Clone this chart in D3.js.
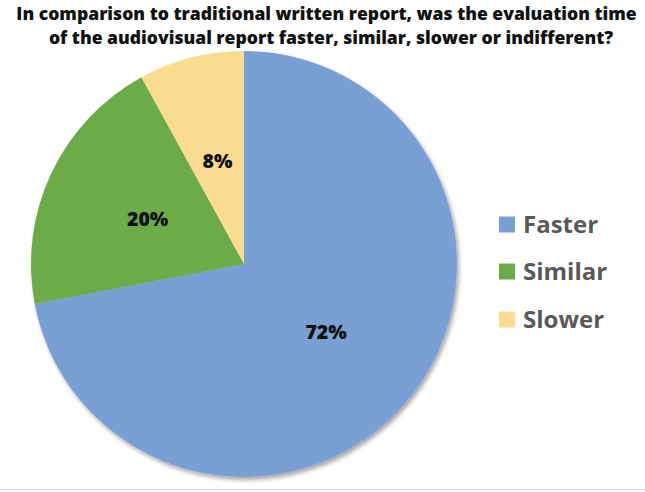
<!DOCTYPE html>
<html>
<head>
<meta charset="utf-8">
<script src="https://cdn.jsdelivr.net/npm/d3@7"></script>
<style>
html,body{margin:0;padding:0;background:#fff;}
svg{display:block;}
</style>
</head>
<body>
<svg id="chart" width="645" height="492"></svg>
<script>
const categories = ["Faster", "Similar", "Slower"];
const values = [72, 20, 8];
const labels = ["72%", "20%", "8%"];
const colors = ["#7A9FD3", "#6CAB47", "#FADC91"];
const titleLines = [
  "In comparison to traditional written report, was the evaluation time",
  "of the audiovisual report faster, similar, slower or indifferent?"
];

const svg = d3.select("#chart");
const W = 645, H = 492;

const defs = svg.append("defs");
const f = defs.append("filter").attr("id","shadow").attr("x","-10%").attr("y","-10%").attr("width","120%").attr("height","120%");
f.append("feDropShadow").attr("dx",2).attr("dy",3).attr("stdDeviation",2.2)
  .attr("flood-color","#000").attr("flood-opacity",0.35);

// bottom border line
svg.append("line").attr("x1",0).attr("x2",W).attr("y1",489.5).attr("y2",489.5)
  .attr("stroke","#d9d9d9").attr("stroke-width",1);

// title: one text block, two lines, horizontally scaled to match the reference width
const titleCenters = [326.5, 331];
const title = svg.append("text")
  .attr("text-anchor","middle")
  .attr("font-family","'Open Sans', sans-serif")
  .attr("font-weight","800")
  .attr("font-size", 18)
  .attr("fill","#111");
const spans = titleLines.map((t,i)=> title.append("tspan").attr("y", i*24.5).text(t));
const nat1 = spans[0].node().getComputedTextLength();
const sx = 621 / nat1;
spans.forEach((s,i)=> s.attr("x", (titleCenters[i]) / sx));
title.attr("transform", `translate(0,19.5) scale(${sx},1)`);

// pie
const cx = 244, cy = 264, r = 213;
const pie = d3.pie().sort(null).value(d=>d)(values);
const arc = d3.arc().innerRadius(0).outerRadius(r);
const labelArc = d3.arc().innerRadius(r*0.5).outerRadius(r*0.5);
const g = svg.append("g").attr("transform",`translate(${cx},${cy})`);
g.append("g").attr("filter","url(#shadow)")
  .selectAll("path").data(pie).enter().append("path")
  .attr("d", arc)
  .attr("fill",(d,i)=>colors[i]);

g.selectAll("text.lbl").data(pie).enter().append("text")
  .attr("class","lbl")
  .attr("transform", d=>`translate(${labelArc.centroid(d)})`)
  .attr("text-anchor","middle")
  .attr("dy","0.36em")
  .attr("font-family","'Open Sans', sans-serif")
  .attr("font-weight","800")
  .attr("font-size", 19.5)
  .attr("fill","#111")
  .text((d,i)=>labels[i]);

// legend
const legY = [224.5, 271.5, 319.5];
const leg = svg.append("g");
categories.forEach((c,i)=>{
  leg.append("rect").attr("x",499).attr("y",legY[i]-8).attr("width",16).attr("height",16)
    .attr("fill",colors[i]);
  leg.append("text").attr("x",523).attr("y",legY[i]+8.5)
    .attr("font-family","'Open Sans', sans-serif")
    .attr("font-weight","bold")
    .attr("font-size",24)
    .attr("fill","#595959")
    .text(c);
});
</script>
</body>
</html>
